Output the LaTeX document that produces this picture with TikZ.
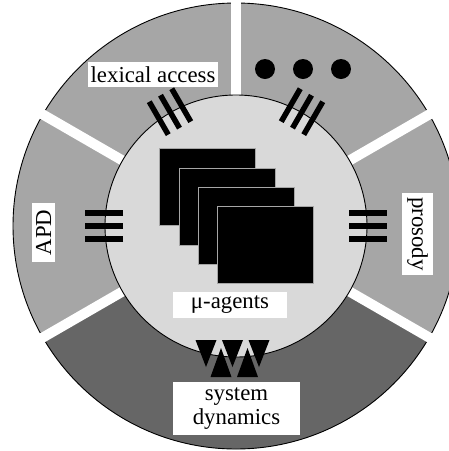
\documentclass[tikz,border=0pt]{standalone}
\usepackage{fontspec}
\setmainfont{Liberation Serif}
\newfontfamily\lblfont{Liberation Serif}
\usetikzlibrary{calc}
\definecolor{sectorgray}{HTML}{A6A6A6}
\definecolor{sysgray}{HTML}{666666}
\definecolor{innergray}{HTML}{D9D9D9}
\begin{document}
\begin{tikzpicture}[x=1pt,y=-1pt,
  lbl/.style={fill=white, inner sep=0pt, font=\lblfont\fontsize{22.8}{24}\selectfont},
  barmark/.style={line width=5.5pt},
  agentsq/.style={fill=black, draw=gray!70, line width=0.8pt, minimum width=96, minimum height=77, inner sep=0pt},
  dotmark/.style={circle, fill=black, minimum size=20, inner sep=0pt},
  gapline/.style={white, line width=10pt},
  rim/.style={line width=0.9pt}]
\useasboundingbox (0,0) rectangle (449,451);
\clip (0,0) rectangle (449,451);
\coordinate (C) at (236,226);
% outer ring sectors
\fill[sectorgray] (C) circle[radius=223];
\fill[sysgray] (C) -- ++(30:223) arc[start angle=30, end angle=150, radius=223] -- cycle;
\draw[rim] (C) circle[radius=223];
% white gaps between sectors
\foreach \a in {-30,-90,-150,150,30}
  \draw[gapline] (C) -- ++(\a:232);
% inner circle
\filldraw[fill=innergray, draw=black, rim] (C) circle[radius=131];
% stacked agent squares
\node[agentsq] (s1) at (207.5,187) {};
\node[agentsq] (s2) at (227,206.5) {};
\node[agentsq] (s3) at (246,225.5) {};
\node[agentsq] (s4) at (265,245) {};
% triple bar marks on the inner circle border
\foreach \pa in {120,60,180,0} {
  \begin{scope}[shift={(C)}, rotate=\pa]
    \foreach \o in {-13,0,13}
      \draw[barmark] (113,\o) -- (151,\o);
  \end{scope}
}
% dots
\node[dotmark] (d1) at (265,69) {};
\node[dotmark] (d2) at (303,69) {};
\node[dotmark] (d3) at (341,69) {};
% system dynamics triangles
\foreach \x in {206,232.5,259}
  \fill (\x-10.5,340) -- (\x+10.5,340) -- (\x,367) -- cycle;
\foreach \x in {221,247.5}
  \fill (\x-10.5,377) -- (\x+10.5,377) -- (\x,348) -- cycle;
% labels
\node[lbl, minimum width=130, minimum height=25] (lex) at (153,74.5) {lexical access};
\node[lbl, rotate=90, minimum width=59, minimum height=23] (apd) at (43.5,232.5) {APD};
\node[lbl, rotate=-90, minimum width=82, minimum height=31] (pros) at (417.5,234) {prosody};
\node[lbl, minimum width=114, minimum height=26] (mu) at (230,305) {μ-agents};
\node[lbl, minimum width=127, minimum height=53, align=center] (sys) at (236.5,408.5) {system\\dynamics};
\end{tikzpicture}
\end{document}
